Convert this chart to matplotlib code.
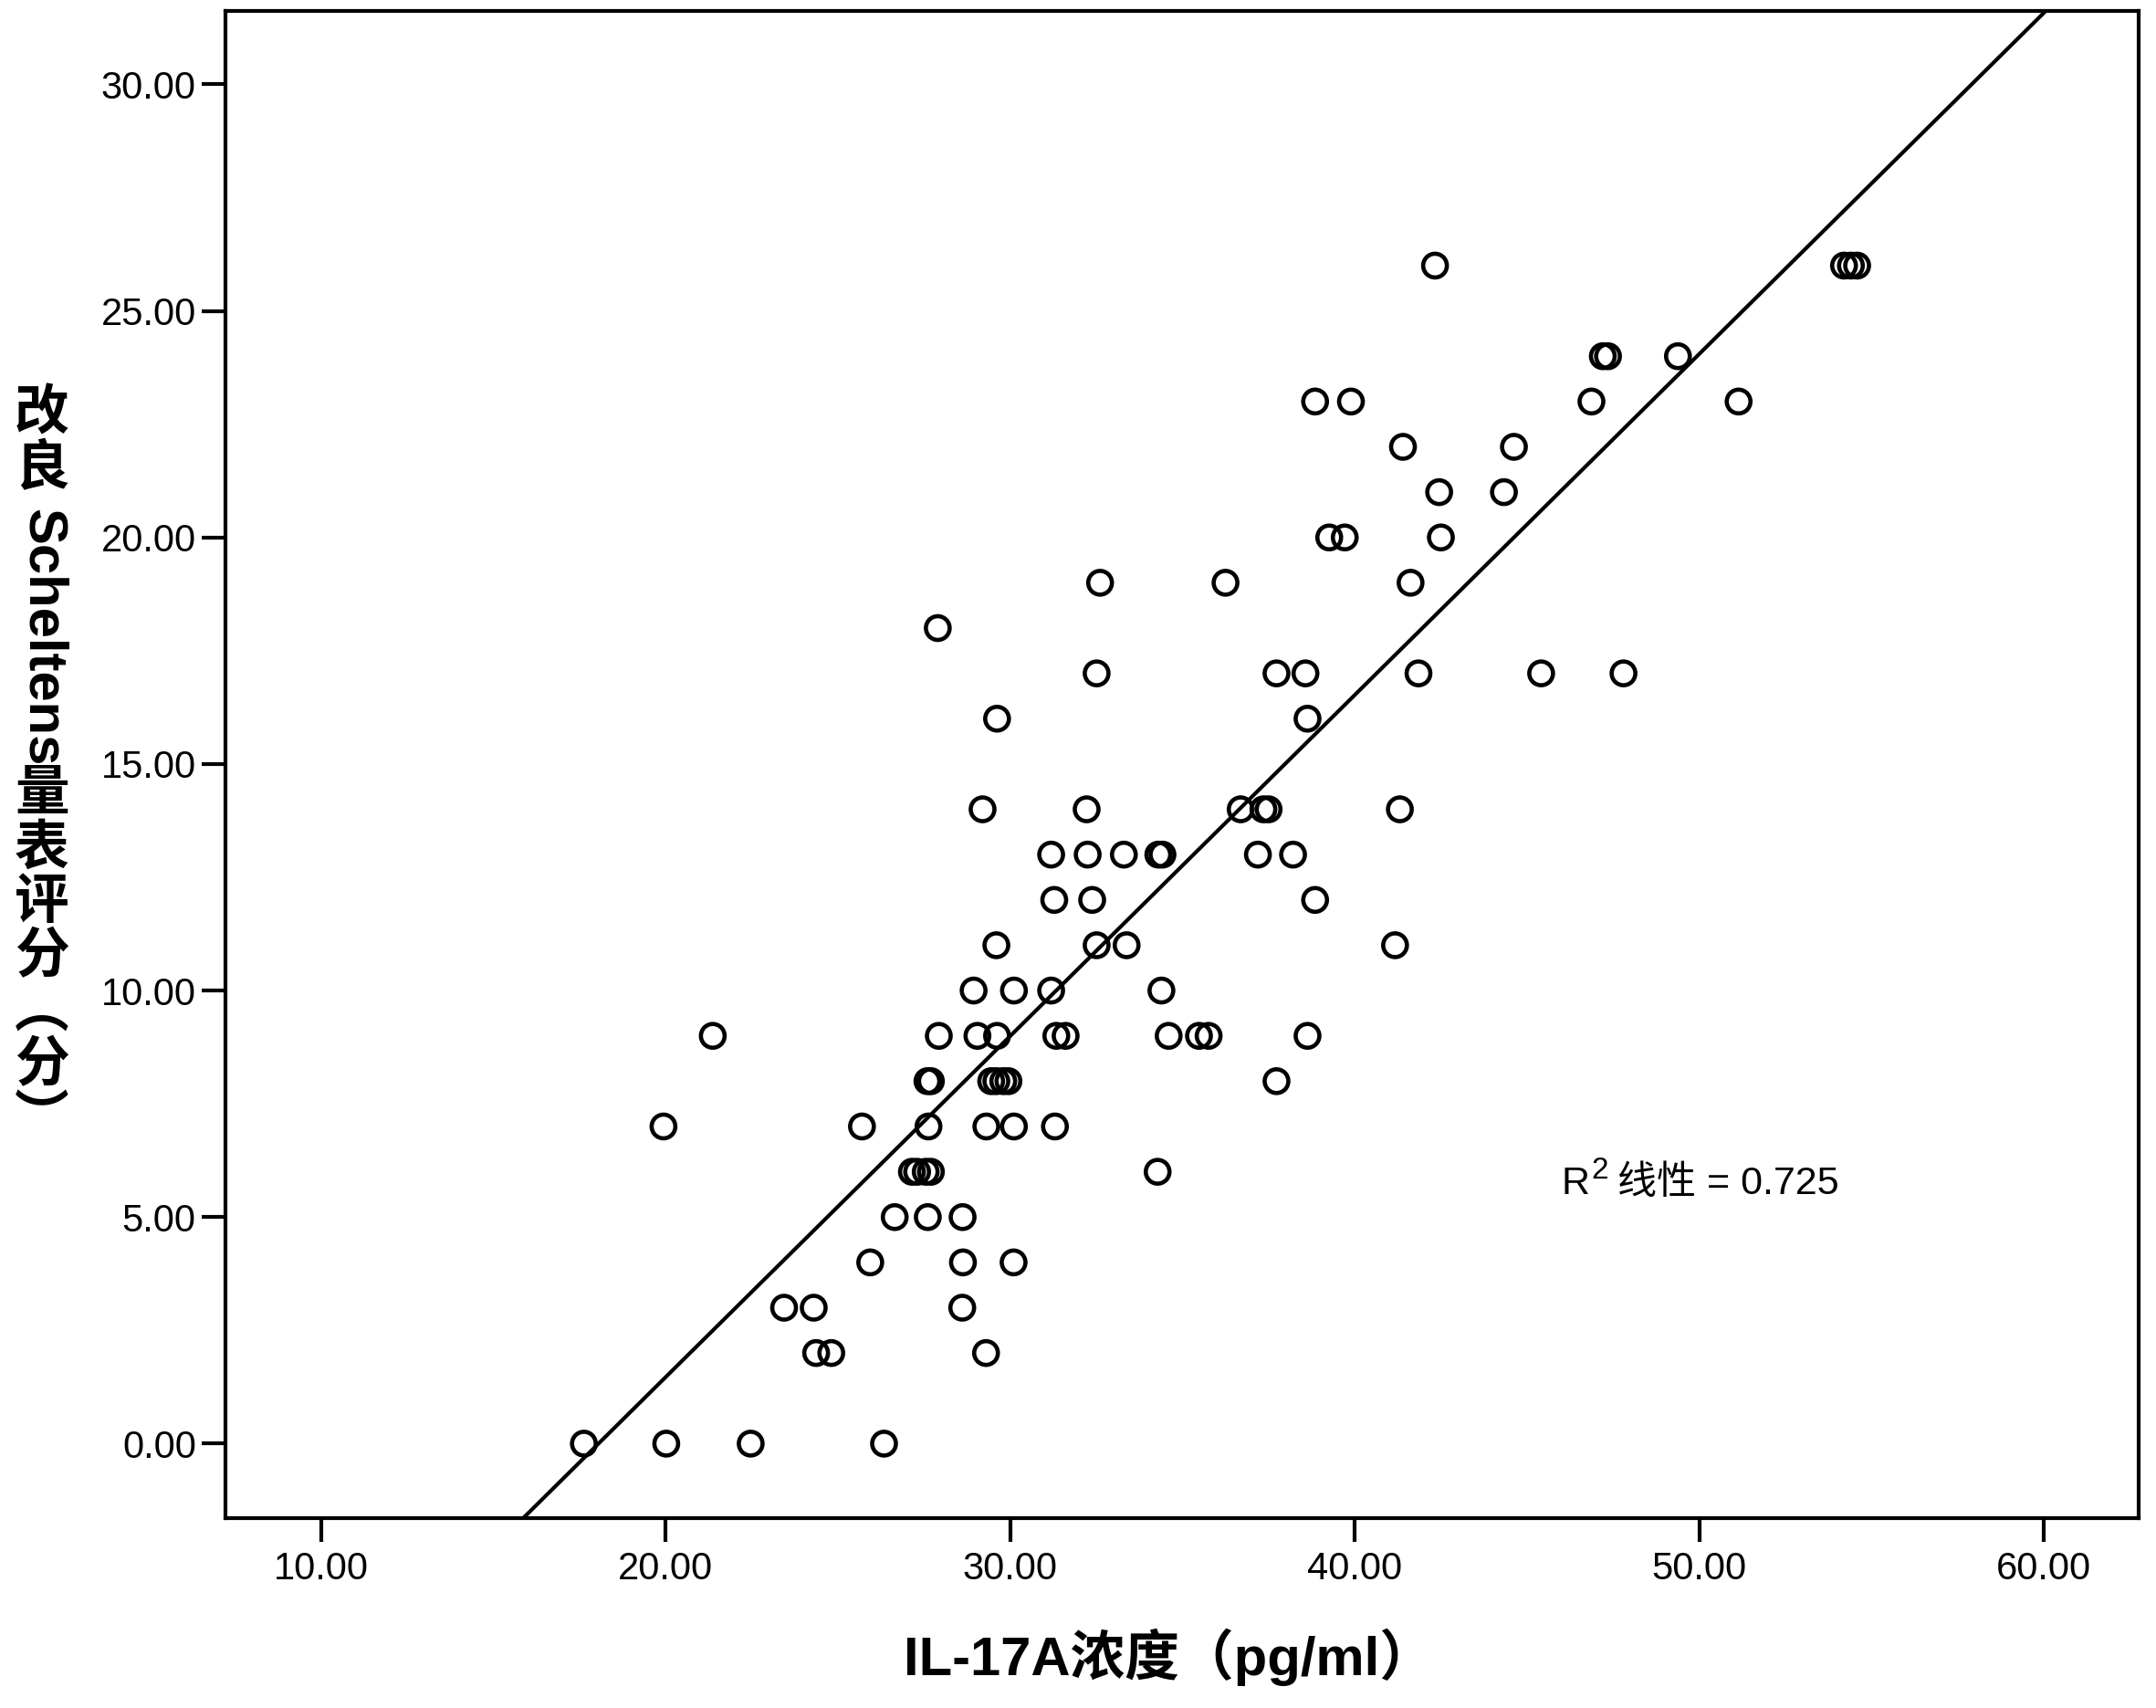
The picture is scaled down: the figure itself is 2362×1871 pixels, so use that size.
import numpy as np
import matplotlib
matplotlib.use("Agg")
import matplotlib.pyplot as plt

# IL-17A concentration (pg/ml) and modified Scheltens score
il17a = [17.63, 20.02, 22.47, 26.34,
         24.37, 24.81, 29.30,
         23.44, 24.30, 28.61,
         25.94, 28.63, 30.10,
         26.65, 27.61, 28.62,
         27.15, 27.30, 27.55, 27.70, 34.28,
         19.94, 25.70, 27.63, 29.31, 30.11, 31.30,
         27.60, 27.70, 29.45, 29.60, 29.80, 29.95, 37.73,
         21.37, 27.93, 29.05, 29.62, 31.34, 31.61, 34.60, 35.48, 35.76, 38.63,
         28.94, 30.11, 31.19, 34.39,
         29.60, 32.51, 33.38, 41.17,
         31.28, 32.38, 38.85,
         31.19, 32.25, 33.30, 34.30, 34.42, 37.19, 38.21,
         29.20, 32.22, 36.69, 37.35, 37.50, 41.31,
         29.62, 38.63,
         32.51, 37.73, 38.57, 41.85, 45.41, 47.80,
         27.90,
         32.61, 36.25, 41.62,
         39.26, 39.71, 42.50,
         42.45, 44.33,
         41.40, 44.62,
         38.85, 39.89, 46.87, 51.14,
         47.20, 47.35, 49.38,
         42.33, 54.20, 54.40, 54.58]

scheltens = ([0] * 4 + [2] * 3 + [3] * 3 + [4] * 3 + [5] * 3 + [6] * 5 + [7] * 6 +
             [8] * 7 + [9] * 10 + [10] * 4 + [11] * 4 + [12] * 3 + [13] * 7 +
             [14] * 6 + [16] * 2 + [17] * 6 + [18] * 1 + [19] * 3 + [20] * 3 +
             [21] * 2 + [22] * 2 + [23] * 4 + [24] * 3 + [26] * 4)

x_ticks = [10, 20, 30, 40, 50, 60]
y_ticks = [0, 5, 10, 15, 20, 25, 30]
r2_text = "0.725"

x_title = "IL-17A浓度（pg/ml）"
# vertical y title: (text, rotation)  CJK upright, latin turned
y_title_parts = [("改", 0), ("良", 0), ("Scheltens", -90), ("量", 0), ("表", 0),
                 ("评", 0), ("分", 0), ("︵", 0), ("分", 0), ("︶", 0)]

LAT = "Liberation Sans"
CJK = "Noto Sans CJK SC"
W, H = 2362, 1871

fig = plt.figure(figsize=(W / 100, H / 100), dpi=100)
ax = fig.add_axes([246.7 / W, 1 - 1663.3 / H, (2343 - 246.7) / W, (1663.3 - 12) / H])

ax.scatter(il17a, scheltens, s=350, facecolors="none", edgecolors="black",
           linewidths=3.3, zorder=3)

ax.set_xlim(7.22, 62.75)
ax.set_ylim(-1.65, 31.62)

# linear fit across the whole x range
slope, icpt = np.polyfit(il17a, scheltens, 1)
xs = np.array(ax.get_xlim())
ax.plot(xs, slope * xs + icpt, color="black", lw=3, zorder=2)

ax.set_xticks(x_ticks)
ax.set_yticks(y_ticks)
ax.set_xticklabels([f"{v:.2f}" for v in x_ticks], fontfamily=LAT, fontsize=30)
ax.set_yticklabels([f"{v:.2f}" for v in y_ticks], fontfamily=LAT, fontsize=30)
ax.tick_params(axis="x", direction="out", length=19, width=3, pad=7)
ax.tick_params(axis="y", direction="out", length=19, width=3, pad=4)
for sp in ax.spines.values():
    sp.set_linewidth(3)

# x title
fig.text(1280 / W, 1 - 1815 / H, x_title, ha="center", va="center",
         fontsize=43, fontweight="bold", family=[LAT, CJK])

# R^2 annotation built from pieces
fig.canvas.draw()
r = fig.canvas.get_renderer()
t1 = ax.text(46.0, 5.5, "R", fontsize=31, family=[LAT, CJK], va="baseline", ha="left")
bb = t1.get_window_extent(r)
xd = bb.x1
base = ax.transData.transform((46.0, 5.5))[1]
t2 = fig.text((xd + 2) / W, (base + 17) / H, "2", fontsize=24, family=[LAT, CJK],
              va="baseline", ha="left")
bb2 = t2.get_window_extent(r)
fig.text((bb2.x1 + 10) / W, base / H, "线性 = " + r2_text, fontsize=31,
         family=[LAT, CJK], va="baseline", ha="left")

# y title, stacked top to bottom
y_px = H - 426
for txt, rot in y_title_parts:
    t = fig.text(46 / W, y_px / H, txt, rotation=rot, ha="center", va="top",
                 fontsize=43, fontweight="bold", family=[LAT, CJK])
    bb = t.get_window_extent(r)
    gap = 14 if txt == "良" else 4
    y_px -= bb.height + gap

fig.savefig("out.png", dpi=100, facecolor="white")
